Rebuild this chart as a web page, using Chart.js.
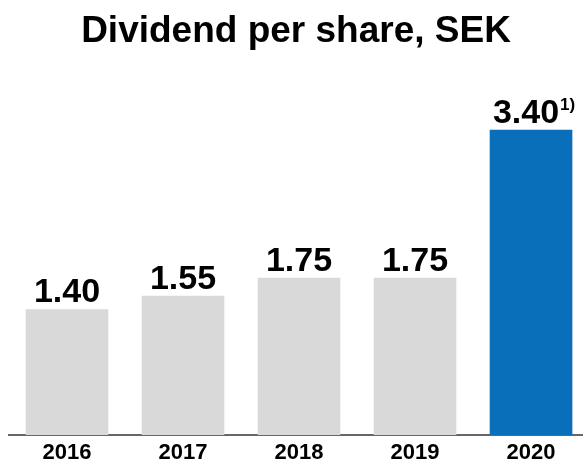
<!DOCTYPE html>
<html>
<head>
<meta charset="utf-8">
<script src="https://cdn.jsdelivr.net/npm/chart.js@4/dist/chart.umd.min.js"></script>
<style>
    html, body { margin: 0; padding: 0; background: #fff; overflow: hidden; }
    #wrap { width: 583px; height: 461px; position: relative; }
</style>
</head>
<body>
<div id="wrap"><canvas id="divChart"></canvas></div>
<script>
const years = ['2016', '2017', '2018', '2019', '2020'];
const dividends = [1.40, 1.55, 1.75, 1.75, 3.40];
const notes = ['', '', '', '', '1)'];
const barColors = ['#d9d9d9', '#d9d9d9', '#d9d9d9', '#d9d9d9', '#0a6fba'];

const FONT = "'Liberation Sans', Arial, Helvetica, sans-serif";

// value labels above each bar, with optional footnote marker
const valueLabels = {
    id: 'valueLabels',
    afterDatasetsDraw(chart) {
        const ctx = chart.ctx;
        const meta = chart.getDatasetMeta(0);
        ctx.save();
        ctx.fillStyle = '#000';
        ctx.textBaseline = 'alphabetic';
        meta.data.forEach((bar, i) => {
            const txt = dividends[i].toFixed(2);
            ctx.font = 'bold 34px ' + FONT;
            const w = ctx.measureText(txt).width;
            let supW = 0;
            if (notes[i]) {
                ctx.font = 'bold 17px ' + FONT;
                supW = ctx.measureText(notes[i]).width;
            }
            const x = bar.x - w / 2 - supW / 3;
            const y = bar.y - 7;
            ctx.font = 'bold 34px ' + FONT;
            ctx.textAlign = 'left';
            ctx.fillText(txt, x, y);
            if (notes[i]) {
                ctx.font = 'bold 17px ' + FONT;
                ctx.fillText(notes[i], x + w + 1, y - 13);
            }
        });
        ctx.restore();
    }
};

new Chart(document.getElementById('divChart'), {
    type: 'bar',
    data: {
        datasets: [{
            data: dividends.map((v, i) => ({ x: i, y: v })),
            backgroundColor: barColors,
            barThickness: 82
        }]
    },
    options: {
        responsive: true,
        maintainAspectRatio: false,
        animation: false,
        layout: { padding: { left: 9, right: 0, top: 0, bottom: -10 } },
        plugins: {
            legend: { display: false },
            tooltip: { enabled: false },
            title: {
                display: true,
                text: 'Dividend per share, SEK',
                color: '#000',
                font: { family: FONT, size: 37, weight: 'bold' },
                padding: { top: 10, bottom: 22 }
            }
        },
        scales: {
            x: {
                type: 'linear',
                offset: false,
                min: -0.5,
                max: 4.448,
                grid: { display: false, drawTicks: false },
                border: { display: true, color: '#666', width: 2 },
                afterBuildTicks: axis => {
                    axis.ticks = years.map((y, i) => ({ value: i }));
                },
                ticks: {
                    color: '#000',
                    padding: 7,
                    maxRotation: 0,
                    autoSkip: false,
                    font: { family: FONT, size: 22, weight: 'bold', lineHeight: 1 },
                    callback: value => years[value]
                }
            },
            y: {
                display: false,
                min: 0,
                max: 4
            }
        }
    },
    plugins: [valueLabels]
});
</script>
</body>
</html>
